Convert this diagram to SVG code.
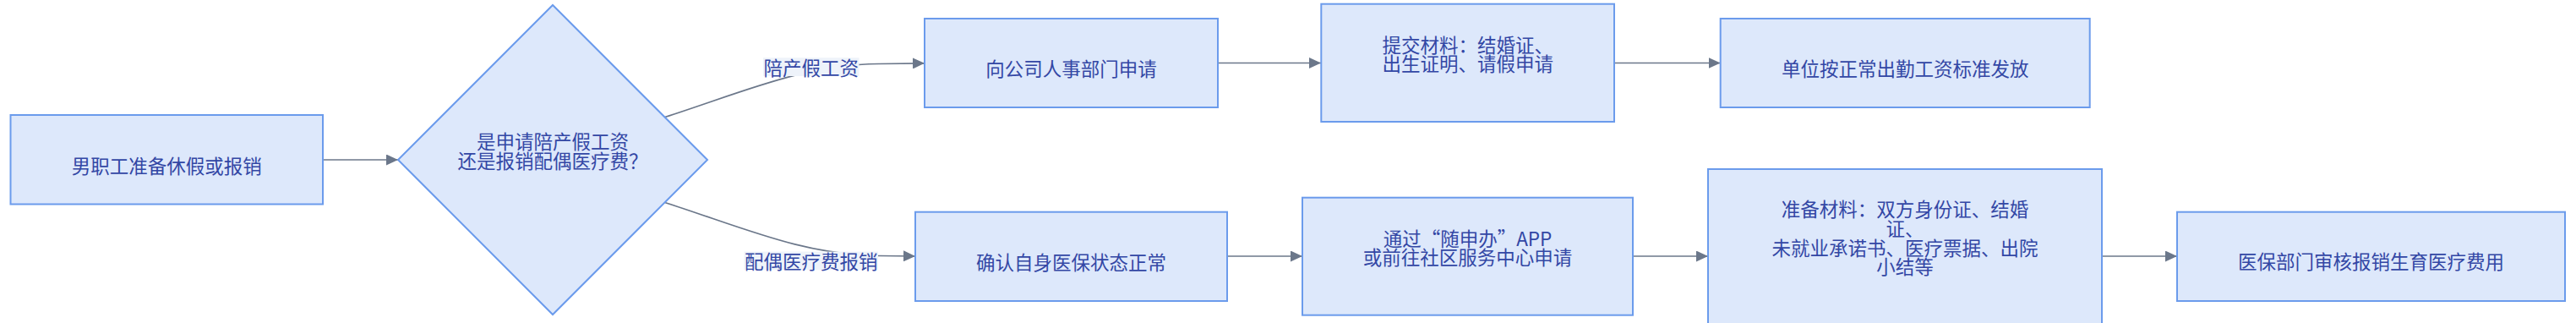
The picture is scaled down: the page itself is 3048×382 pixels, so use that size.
<svg xmlns="http://www.w3.org/2000/svg" width="3048" height="382" viewBox="0 0 3048 382">
<style>
.node rect, .node polygon { fill: #dde8fb; stroke: #6b9bec; stroke-width: 2; }
text { font-family: "Noto Sans CJK SC", "Noto Sans", sans-serif; font-size: 22.5px; fill: #3347a5; text-anchor: middle; }
.edge { fill: none; stroke: #6b778a; stroke-width: 1.7; }
.lbl-bg { fill: #eef3fa; }
</style>
<defs>
<marker id="arrow" markerUnits="userSpaceOnUse" viewBox="0 0 14 13" markerWidth="14" markerHeight="13" refX="14" refY="6.5" orient="auto">
<path d="M0,0 L14,6.5 L0,13 Z" fill="#6b778a"/>
</marker>
</defs>
<rect width="3048" height="382" fill="#ffffff"/>
<g id="connectors">
<path class="edge" d="M382,189 L471,189" marker-end="url(#arrow)"/>
<path class="edge" d="M786.7,138.5 C880,108.6 950,76.4 1040,75.5 L1094,74.8" marker-end="url(#arrow)"/>
<path class="edge" d="M786.7,239.5 C880,269.4 950,301.6 1040,302.5 L1083,303" marker-end="url(#arrow)"/>
<path class="edge" d="M1441,74.5 L1563,74.5" marker-end="url(#arrow)"/>
<path class="edge" d="M1452,303 L1541,303" marker-end="url(#arrow)"/>
<path class="edge" d="M1910,74.5 L2035.5,74.5" marker-end="url(#arrow)"/>
<path class="edge" d="M1932,303 L2021,303" marker-end="url(#arrow)"/>
<path class="edge" d="M2487,303 L2576,303" marker-end="url(#arrow)"/>
<g id="label-peichan">
<rect class="lbl-bg" x="903" y="68.3" width="113.5" height="21.7"/>
<text x="959.7" y="88.8">陪产假工资</text>
</g>
<g id="label-peiou">
<rect class="lbl-bg" x="880.5" y="297.6" width="158.5" height="21.7"/>
<text x="959.7" y="318">配偶医疗费报销</text>
</g>
</g>
<g id="n1" class="node">
<rect x="12.5" y="136" width="369.5" height="105.5"/>
<text x="197.2" y="204.5">男职工准备休假或报销</text>
</g>
<g id="n2" class="node">
<polygon points="654,6 837,189 654,372 471,189"/>
<text x="654" y="175.5">是申请陪产假工资</text>
<text x="654" y="198.8">还是报销配偶医疗费？</text>
</g>
<g id="n3" class="node">
<rect x="1094" y="22" width="347" height="105"/>
<text x="1267.5" y="89.5">向公司人事部门申请</text>
</g>
<g id="n4" class="node">
<rect x="1083" y="250.7" width="369" height="105.3"/>
<text x="1267.5" y="318.5">确认自身医保状态正常</text>
</g>
<g id="n5" class="node">
<rect x="1563.3" y="4.7" width="346.7" height="139.3"/>
<text x="1736.7" y="61.6">提交材料：结婚证、</text>
<text x="1736.7" y="84.4">出生证明、请假申请</text>
</g>
<g id="n6" class="node">
<rect x="1541" y="233.7" width="391" height="139"/>
<text x="1736.5" y="290.5">通过“随申办”APP</text>
<text x="1736.5" y="313.3">或前往社区服务中心申请</text>
</g>
<g id="n7" class="node">
<rect x="2035.7" y="22" width="437" height="105"/>
<text x="2254.2" y="89.5">单位按正常出勤工资标准发放</text>
</g>
<g id="n8" class="node">
<rect x="2021" y="200" width="466" height="210"/>
<text x="2254" y="256.1">准备材料：双方身份证、结婚</text>
<text x="2254" y="278.8">证、</text>
<text x="2254" y="301.5">未就业承诺书、医疗票据、出院</text>
<text x="2254" y="324.2">小结等</text>
</g>
<g id="n9" class="node">
<rect x="2576" y="250.7" width="459" height="105.3"/>
<text x="2805.5" y="318.3">医保部门审核报销生育医疗费用</text>
</g>
</svg>
